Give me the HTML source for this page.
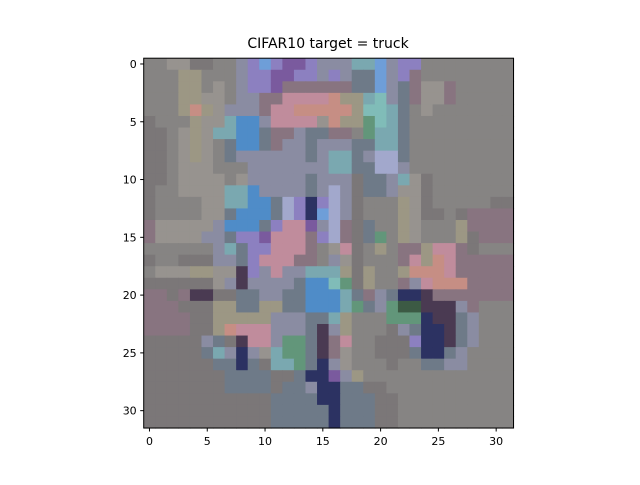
<!DOCTYPE html>
<html><head><meta charset="utf-8"><style>
html,body{margin:0;padding:0;background:#fff}
svg text{font-family:"DejaVu Sans","Liberation Sans",sans-serif}
</style></head><body>
<svg id="chart" width="640" height="480" xmlns="http://www.w3.org/2000/svg">
<rect width="640" height="480" fill="#fff"/>
<text x="328" y="48" font-size="14" text-anchor="middle">CIFAR10 target = truck</text>
<g id="cells"></g>
<g id="axes"></g>
</svg>
<script>
const imgRows = [
"ggwwGGggypBpvvpy"+"yyttBypp"+"gggggggg",
"gggoogggyppvvppy"+"pyssBypm"+"gggggggg",
"gggoogwgyppvmmmm"+"mmssBysm"+"wwmggggg",
"gggoowwgyymmkkkk"+"rootcysm"+"wwmggggg",
"gggorowyyymkkrrr"+"rrocctsg"+"wggggggg",
"Ggggowwtbbykkkkw"+"rooectsg"+"gggggggg",
"GGgwowttbbsmmyss"+"mmgettsg"+"gggggggg",
"GGgwowgsbbsmyysy"+"yyssttsg"+"gggggggg",
"GGgwowgsyyyyyysy"+"ttsyllsg"+"gggggggg",
"GGgwwwgggyyyyyyy"+"ttssllyg"+"gggggggg",
"GGgwwwwgwyyyyysy"+"yyGssytw"+"Gggggggg",
"Gggwwwwttbyyyysy"+"lyGssyww"+"Gggggggg",
"GggggwwttbbslpnP".replace("P","p")+"lyGgggow"+"GgggggGG",
"GggggwwsbbbslpnB"+"lyGgggow"+"GGgGmmmm",
"mwwwwwybbbspkkvy"+"lmGsggow"+"gggommmm",
"mwwwwyysppvkkkmp"+"lmGsegow"+"gggoGmmm",
"ggggggytsppkkkmg"+"wkGgogmm"+"okkmGggg",
"GggGGGyyspkkkmmg"+"ywGgggmk"+"orkmmmmm",
"gwwwoowwdpykyytt"+"toGoggor"+"rrkmmmmm",
"GGGGGGwydyyyysbb"+"ceGoggmy"+"krrrmmmm",
"mmGmddGGssyyssbb"+"btsmysnn"+"dmmmmmmm",
"mmmGGGoossoossbb"+"btesyeqq"+"dddymggg",
"mmmmGGoooooyyyss"+"togggeee"+"nddsyggg",
"mmmmGGorkkkyyysd"+"yogggGys"+"nndsyggg",
"GGGGGysGdkkyeesd"+"mkggGGGp"+"nndsyggg",
"GGGGGstynywteesd"+"mwggGGGs"+"nnsygggg",
"GGGGGGssnsGttesn"+"ywgggGgg"+"ssyygggg",
"GGGGGGGssssGGsnn"+"vyoggggg"+"gggggggg",
"GGGGGGGssssGssyn"+"nssGGggg"+"gggggggg",
"GGGGGGGGGGGssssn"+"nsssGGgg"+"gggggggg",
"GGGGGGGGGGGsssss"+"nsssGGgg"+"gggggggg",
"GGGGGGGGGGGsssss"+"nsssGGgg"+"gggggggg"
];
const palette = {g:"#868483",G:"#7b7778",w:"#97938f",o:"#9c9784",b:"#4f8cc8",B:"#6e9ed8",p:"#8c80c0",v:"#7a5a9e",k:"#c08c9c",r:"#c68e84",t:"#7aa8b0",c:"#80bcb8",n:"#2c3262",d:"#4a3a52",e:"#62967a",m:"#887480",s:"#6e7a88",l:"#a2a8cc",q:"#3c5a44",y:"#8a8ca2"};
const xTicks = [0,5,10,15,20,25,30];
const yTicks = [0,5,10,15,20,25,30];
const N = 32;
const X0 = 143.7, Y0 = 58.2, SIZE = 369.8, CS = SIZE / N;
function xs(i){ return X0 + (i + 0.5) * CS; }
function ys(i){ return Y0 + (i + 0.5) * CS; }
const NS = "http://www.w3.org/2000/svg";
const cells = document.getElementById("cells");
for (let r = 0; r < N; r++) {
  const row = imgRows[r];
  for (let c = 0; c < N; c++) {
    const ch = row[c] || "g";
    const el = document.createElementNS(NS, "rect");
    el.setAttribute("x", (xs(c) - CS / 2).toFixed(2));
    el.setAttribute("y", (ys(r) - CS / 2).toFixed(2));
    el.setAttribute("width", (CS + 0.6).toFixed(2));
    el.setAttribute("height", (CS + 0.6).toFixed(2));
    el.setAttribute("fill", palette[ch] || palette.g);
    
    
    cells.appendChild(el);
  }
}
const axes = document.getElementById("axes");
const frame = document.createElementNS(NS, "rect");
frame.setAttribute("x", X0); frame.setAttribute("y", Y0);
frame.setAttribute("width", SIZE); frame.setAttribute("height", SIZE);
frame.setAttribute("fill", "none"); frame.setAttribute("stroke", "#000"); frame.setAttribute("stroke-width", "1");


axes.appendChild(frame);
xTicks.forEach(v => {
  const x = xs(v);
  const t = document.createElementNS(NS, "line");
  t.setAttribute("x1", x); t.setAttribute("x2", x);
  t.setAttribute("y1", Y0 + SIZE); t.setAttribute("y2", Y0 + SIZE + 3.5);
  t.setAttribute("stroke", "#000");
  
  
  axes.appendChild(t);
  const l = document.createElementNS(NS, "text");
  l.setAttribute("x", x); l.setAttribute("y", Y0 + SIZE + 17);
  l.setAttribute("font-size", "11"); l.setAttribute("text-anchor", "middle");
  l.textContent = v;
  
  
  axes.appendChild(l);
});
yTicks.forEach(v => {
  const y = ys(v);
  const t = document.createElementNS(NS, "line");
  t.setAttribute("x1", X0 - 3.5); t.setAttribute("x2", X0);
  t.setAttribute("y1", y); t.setAttribute("y2", y);
  t.setAttribute("stroke", "#000");
  
  
  axes.appendChild(t);
  const l = document.createElementNS(NS, "text");
  l.setAttribute("x", X0 - 7); l.setAttribute("y", y + 4);
  l.setAttribute("font-size", "11"); l.setAttribute("text-anchor", "end");
  l.textContent = v;
  
  
  axes.appendChild(l);
});
</script>
</body></html>
